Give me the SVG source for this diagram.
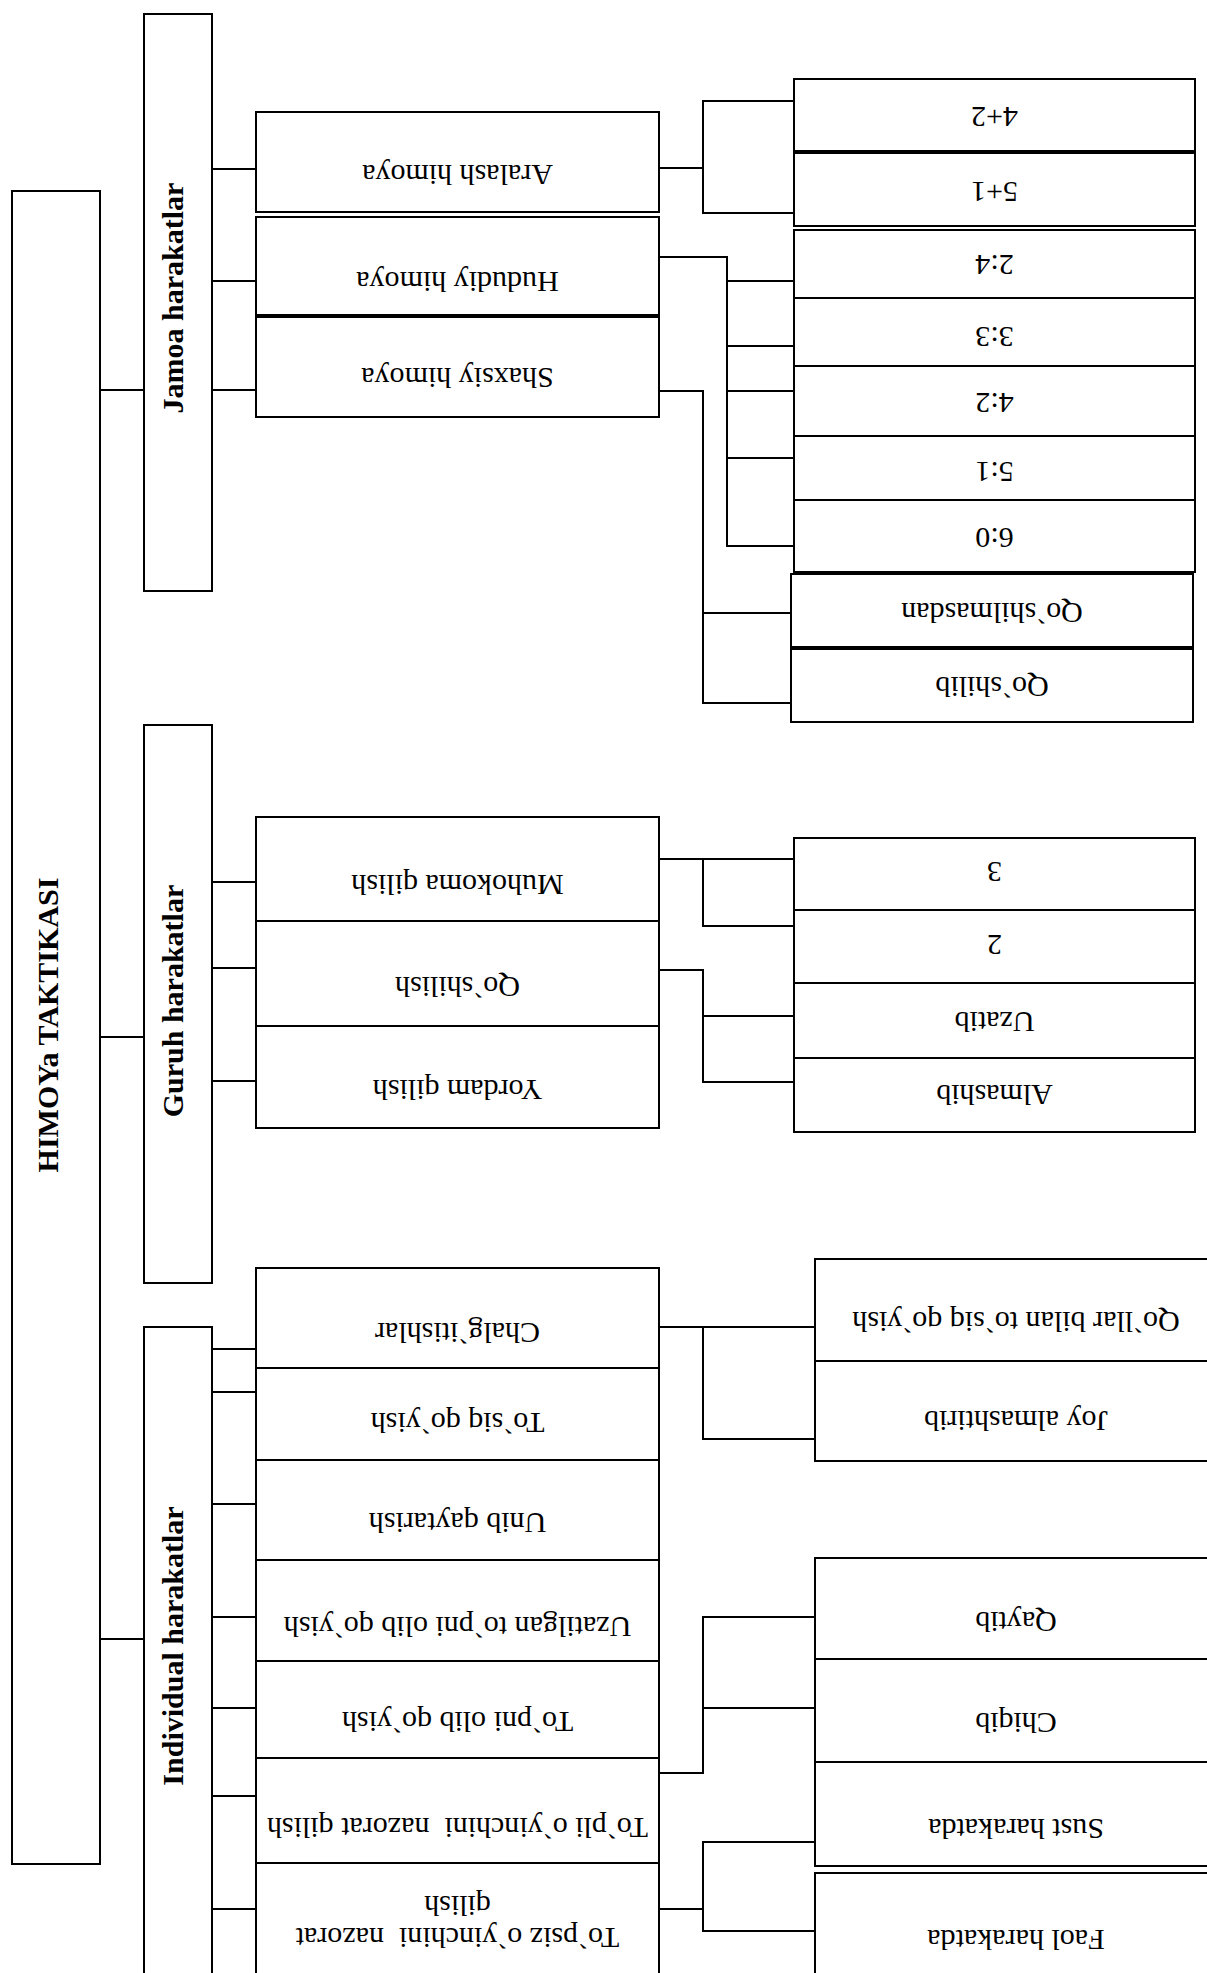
<svg xmlns="http://www.w3.org/2000/svg" width="1207" height="1973" viewBox="0 0 1207 1973">
<style>
.box{fill:#fff;stroke:#000;stroke-width:2}
.c{fill:none;stroke:#000;stroke-width:2}
text{font-family:"Liberation Serif","Times New Roman",serif;font-size:30px;text-anchor:middle;fill:#000}
.b{font-weight:bold}
.pre{white-space:pre}
</style>
<rect width="1207" height="1973" fill="#fff"/>
<g id="connectors">
<path class="c" d="M100 390H144M100 1037H144M100 1639H144"/>
<path class="c" d="M212 169H256M212 281H256M212 390H256"/>
<path class="c" d="M212 882H256M212 968H256M212 1081H256"/>
<path class="c" d="M212 1349H256M212 1392H256M212 1504H256M212 1617H256M212 1708H256M212 1796H256M212 1909H256"/>
<path class="c" d="M659 168H703M794 101H703V213H794"/>
<path class="c" d="M659 257H727V546H794M727 281H794M727 346H794M727 391H794M727 458H794"/>
<path class="c" d="M659 391H703V703H791M703 613H791"/>
<path class="c" d="M659 859H794M703 859V926H794"/>
<path class="c" d="M659 970H703V1082H794M703 1016H794"/>
<path class="c" d="M659 1327H815M703 1327V1439H815"/>
<path class="c" d="M659 1773H703V1617H815M703 1708H815"/>
<path class="c" d="M659 1909H703M815 1842H703V1931H815"/>
</g>
<g id="root"><rect class="box" x="12" y="191" width="88" height="1673"/><text class="b" x="58" y="1025" transform="rotate(-90 58 1025)">HIMOYa TAKTIKASI</text></g>
<g id="jamoa"><rect class="box" x="144" y="14" width="68" height="577"/><text class="b" x="183" y="298" transform="rotate(-90 183 298)">Jamoa harakatlar</text></g>
<g id="guruh"><rect class="box" x="144" y="725" width="68" height="558"/><text class="b" x="183" y="1001" transform="rotate(-90 183 1001)">Guruh harakatlar</text></g>
<g id="individual"><rect class="box" x="144" y="1327" width="68" height="660"/><text class="b" x="183" y="1646" transform="rotate(-90 183 1646)">Individual harakatlar</text></g>

<g id="aralash"><rect class="box" x="256" y="112" width="403" height="100"/><text x="457.5" y="165" transform="rotate(180 457.5 165)">Aralash himoya</text></g>
<g id="hududiy"><rect class="box" x="256" y="217" width="403" height="98"/><text x="457.5" y="272" transform="rotate(180 457.5 272)">Hududiy himoya</text></g>
<g id="shaxsiy"><rect class="box" x="256" y="317" width="403" height="100"/><text x="457.5" y="368" transform="rotate(180 457.5 368)">Shaxsiy himoya</text></g>

<g id="n42p"><rect class="box" x="794" y="79" width="401" height="72"/><text x="994.5" y="107" transform="rotate(180 994.5 107)">4+2</text></g>
<g id="n51p"><rect class="box" x="794" y="153" width="401" height="73"/><text x="994.5" y="182" transform="rotate(180 994.5 182)">5+1</text></g>
<g id="n24"><rect class="box" x="794" y="230" width="401" height="68"/><text x="994.5" y="255" transform="rotate(180 994.5 255)">2:4</text></g>
<g id="n33"><rect class="box" x="794" y="298" width="401" height="68"/><text x="994.5" y="327" transform="rotate(180 994.5 327)">3:3</text></g>
<g id="n42"><rect class="box" x="794" y="366" width="401" height="70"/><text x="994.5" y="393" transform="rotate(180 994.5 393)">4:2</text></g>
<g id="n51"><rect class="box" x="794" y="436" width="401" height="64"/><text x="994.5" y="462" transform="rotate(180 994.5 462)">5:1</text></g>
<g id="n60"><rect class="box" x="794" y="500" width="401" height="72"/><text x="994.5" y="528" transform="rotate(180 994.5 528)">6:0</text></g>
<g id="qoshilmasdan"><rect class="box" x="791" y="574" width="402" height="73"/><text x="992" y="603" transform="rotate(180 992 603)">Qo`shilmasdan</text></g>
<g id="qoshilib"><rect class="box" x="791" y="649" width="402" height="73"/><text x="992" y="677" transform="rotate(180 992 677)">Qo`shilib</text></g>

<g id="muhokoma"><rect class="box" x="256" y="817" width="403" height="104"/><text x="457.5" y="875" transform="rotate(180 457.5 875)">Muhokoma qilish</text></g>
<g id="qoshilish"><rect class="box" x="256" y="921" width="403" height="105"/><text x="457.5" y="977" transform="rotate(180 457.5 977)">Qo`shilish</text></g>
<g id="yordam"><rect class="box" x="256" y="1026" width="403" height="102"/><text x="457.5" y="1080" transform="rotate(180 457.5 1080)">Yordam qilish</text></g>

<g id="g3"><rect class="box" x="794" y="838" width="401" height="72"/><text x="994.5" y="862" transform="rotate(180 994.5 862)">3</text></g>
<g id="g2"><rect class="box" x="794" y="910" width="401" height="73"/><text x="994.5" y="935" transform="rotate(180 994.5 935)">2</text></g>
<g id="uzatib"><rect class="box" x="794" y="983" width="401" height="75"/><text x="994.5" y="1012" transform="rotate(180 994.5 1012)">Uzatib</text></g>
<g id="almashib"><rect class="box" x="794" y="1058" width="401" height="74"/><text x="994.5" y="1085" transform="rotate(180 994.5 1085)">Almashib</text></g>

<g id="chalgitishlar"><rect class="box" x="256" y="1268" width="403" height="100"/><text x="457.5" y="1323" transform="rotate(180 457.5 1323)">Chalg`itishlar</text></g>
<g id="tosiq"><rect class="box" x="256" y="1368" width="403" height="92"/><text x="457.5" y="1413" transform="rotate(180 457.5 1413)">To`siq qo`yish</text></g>
<g id="unib"><rect class="box" x="256" y="1460" width="403" height="100"/><text x="457.5" y="1513" transform="rotate(180 457.5 1513)">Unib qaytarish</text></g>
<g id="uzatilgan"><rect class="box" x="256" y="1560" width="403" height="101"/><text x="457.5" y="1617" transform="rotate(180 457.5 1617)">Uzatilgan to`pni olib qo`yish</text></g>
<g id="topni"><rect class="box" x="256" y="1661" width="403" height="97"/><text x="457.5" y="1712" transform="rotate(180 457.5 1712)">To`pni olib qo`yish</text></g>
<g id="topli"><rect class="box" x="256" y="1758" width="403" height="105"/><text class="pre" x="457.5" y="1818" transform="rotate(180 457.5 1818)">To`pli o`yinchini  nazorat qilish</text></g>
<g id="topsiz"><rect class="box" x="256" y="1863" width="403" height="130"/><text class="pre" x="457.5" y="1928" transform="rotate(180 457.5 1928)">To`psiz o`yinchini  nazorat<tspan x="457.5" dy="32">qilish</tspan></text></g>

<g id="qollar"><rect class="box" x="815" y="1259" width="402" height="102"/><text x="1016" y="1312" transform="rotate(180 1016 1312)">Qo`llar bilan to`siq qo`yish</text></g>
<g id="joy"><rect class="box" x="815" y="1361" width="402" height="100"/><text x="1016" y="1411" transform="rotate(180 1016 1411)">Joy almashtirib</text></g>
<g id="qaytib"><rect class="box" x="815" y="1558" width="402" height="101"/><text x="1016" y="1612" transform="rotate(180 1016 1612)">Qaytib</text></g>
<g id="chiqib"><rect class="box" x="815" y="1659" width="402" height="103"/><text x="1016" y="1713" transform="rotate(180 1016 1713)">Chiqib</text></g>
<g id="sust"><rect class="box" x="815" y="1762" width="402" height="104"/><text x="1016" y="1819" transform="rotate(180 1016 1819)">Sust harakatda</text></g>
<g id="faol"><rect class="box" x="815" y="1873" width="402" height="130"/><text x="1016" y="1930" transform="rotate(180 1016 1930)">Faol harakatda</text></g>
</svg>
